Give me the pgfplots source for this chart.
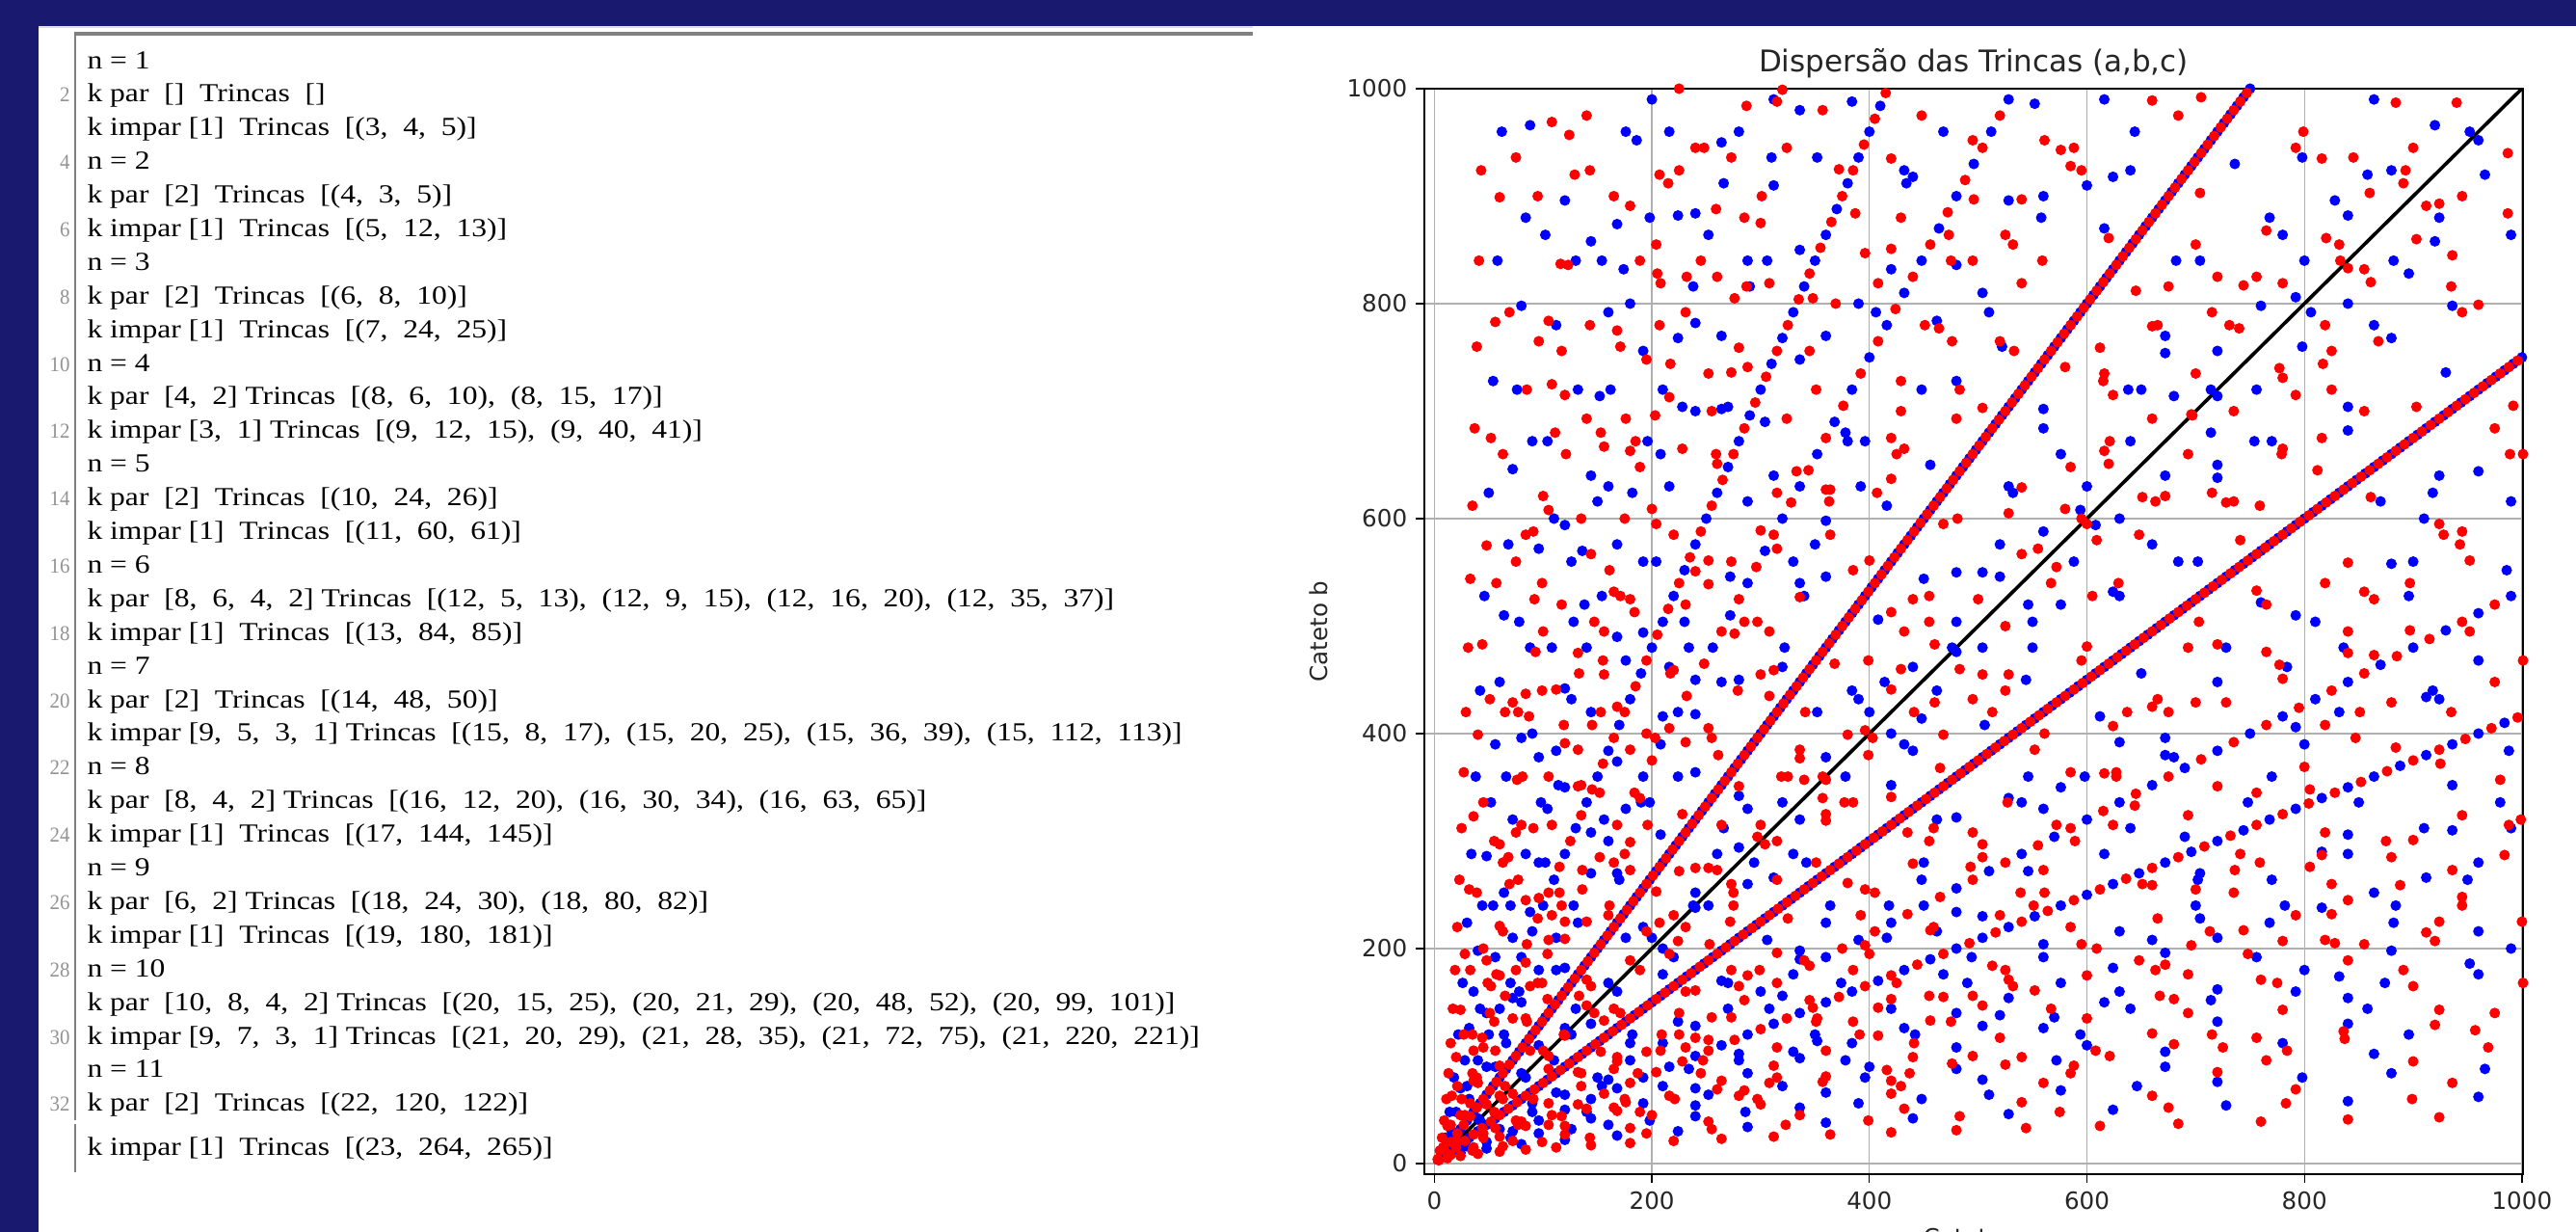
\documentclass[border=0pt]{standalone}
\usepackage{pgfplots}
\pgfplotsset{compat=1.18}
\usepackage{pgfplotstable}
\usepackage{fontspec}
\setmainfont{DejaVu Sans}
\newfontfamily\tms{Liberation Serif}
\definecolor{navy}{HTML}{191970}
\definecolor{ink}{HTML}{262626}
\newcommand\xs{1.17}
\newcommand\Lin[2]{\node[anchor=base west,inner sep=0pt] at (90,{1278-71-34.9*(#1-1)}) {\tms\fontsize{10.8}{12}\selectfont\scalebox{\xs}[1]{#2}};}
\newcommand\Num[1]{\node[anchor=base east,inner sep=0pt,text=gray!85] at (73,{1278-71-34.9*(#1-1)}) {\tms\fontsize{8.8}{10}\selectfont\scalebox{0.95}[1]{#1}};}
\pgfplotstableread{
3 4
9 12
15 20
21 28
27 36
33 44
39 52
45 60
51 68
57 76
63 84
69 92
75 100
81 108
87 116
93 124
99 132
105 140
111 148
117 156
123 164
129 172
135 180
141 188
147 196
153 204
159 212
165 220
171 228
177 236
183 244
189 252
195 260
201 268
207 276
213 284
219 292
225 300
231 308
237 316
243 324
249 332
255 340
261 348
267 356
273 364
279 372
285 380
291 388
297 396
303 404
309 412
315 420
321 428
327 436
333 444
339 452
345 460
351 468
357 476
363 484
369 492
375 500
381 508
387 516
393 524
399 532
405 540
411 548
417 556
423 564
429 572
435 580
441 588
447 596
453 604
459 612
465 620
471 628
477 636
483 644
489 652
495 660
501 668
507 676
513 684
519 692
525 700
531 708
537 716
543 724
549 732
555 740
561 748
567 756
573 764
579 772
585 780
591 788
597 796
603 804
609 812
615 820
621 828
627 836
633 844
639 852
645 860
651 868
657 876
663 884
669 892
675 900
681 908
687 916
693 924
699 932
705 940
711 948
717 956
723 964
729 972
735 980
741 988
747 996
753 1004
5 12
15 36
25 60
35 84
45 108
55 132
65 156
75 180
85 204
95 228
105 252
115 276
125 300
135 324
145 348
155 372
165 396
175 420
185 444
195 468
205 492
215 516
225 540
235 564
245 588
255 612
265 636
275 660
285 684
295 708
305 732
315 756
325 780
335 804
345 828
355 852
365 876
375 900
385 924
395 948
405 972
415 996
8 15
24 45
40 75
56 105
72 135
88 165
104 195
120 225
136 255
152 285
168 315
184 345
200 375
216 405
232 435
248 465
264 495
280 525
296 555
312 585
328 615
344 645
360 675
376 705
392 735
408 765
424 795
440 825
456 855
472 885
488 915
504 945
520 975
536 1005
7 24
21 72
35 120
49 168
63 216
77 264
91 312
105 360
119 408
133 456
147 504
161 552
175 600
189 648
203 696
217 744
231 792
245 840
259 888
273 936
287 984
20 21
60 63
100 105
140 147
180 189
220 231
260 273
300 315
340 357
380 399
420 441
460 483
500 525
540 567
580 609
620 651
660 693
700 735
740 777
780 819
820 861
860 903
900 945
940 987
12 35
36 105
60 175
84 245
108 315
132 385
156 455
180 525
204 595
228 665
252 735
276 805
300 875
324 945
9 40
27 120
45 200
63 280
81 360
99 440
117 520
135 600
153 680
171 760
189 840
207 920
225 1000
28 45
84 135
140 225
196 315
252 405
308 495
364 585
420 675
476 765
532 855
588 945
11 60
33 180
55 300
77 420
99 540
121 660
143 780
165 900
33 56
99 168
165 280
231 392
297 504
363 616
429 728
495 840
561 952
16 63
48 189
80 315
112 441
144 567
176 693
208 819
240 945
48 55
144 165
240 275
336 385
432 495
528 605
624 715
720 825
816 935
13 84
39 252
65 420
91 588
117 756
143 924
36 77
108 231
180 385
252 539
324 693
396 847
468 1001
39 80
117 240
195 400
273 560
351 720
429 880
65 72
195 216
325 360
455 504
585 648
715 792
845 936
20 99
60 297
100 495
140 693
180 891
60 91
180 273
300 455
420 637
540 819
660 1001
15 112
45 336
75 560
105 784
44 117
132 351
220 585
308 819
88 105
264 315
440 525
616 735
792 945
17 144
51 432
85 720
24 143
72 429
120 715
168 1001
51 140
153 420
255 700
357 980
85 132
255 396
425 660
595 924
119 120
357 360
595 600
833 840
52 165
156 495
260 825
19 180
57 540
95 900
57 176
171 528
285 880
104 153
312 459
520 765
95 168
285 504
475 840
28 195
84 585
140 975
84 187
252 561
420 935
133 156
399 468
665 780
21 220
63 660
140 171
420 513
700 855
60 221
180 663
120 209
360 627
23 264
69 792
105 208
315 624
69 260
207 780
25 312
75 936
115 252
345 756
75 308
225 924
27 364
161 240
483 720
29 420
32 255
96 765
96 247
288 741
160 231
480 693
207 224
621 672
175 288
525 864
135 352
87 416
31 480
68 285
204 855
136 273
408 819
204 253
612 759
225 272
675 816
189 340
145 408
93 476
33 544
36 323
108 969
180 299
540 897
252 275
756 825
203 396
155 468
35 612
76 357
152 345
228 325
684 975
297 304
891 912
261 380
217 456
165 532
105 608
37 684
40 399
120 391
280 351
319 360
279 440
231 520
111 680
39 760
84 437
168 425
336 377
341 420
185 672
41 840
44 483
132 475
220 459
308 435
396 403
315 572
259 660
195 748
123 836
43 924
92 525
184 513
276 493
368 465
429 460
385 552
333 644
273 736
205 828
129 920
48 575
240 551
336 527
455 528
407 624
287 816
215 912
100 621
200 609
300 589
400 561
481 600
429 700
369 800
301 900
52 675
156 667
260 651
364 627
468 595
555 572
451 780
387 884
315 988
108 725
216 713
432 665
540 629
533 756
473 864
56 783
168 775
280 759
504 703
616 663
615 728
559 840
495 952
116 837
232 825
348 805
464 777
580 741
696 697
645 812
585 928
60 899
420 851
660 779
731 780
124 957
248 945
372 925
496 897
620 861
744 817
765 868
705 992
320 999
448 975
576 943
704 903
832 855
799 960
660 989
893 924
884 987
}\tabR
\pgfplotstableread{
6 8
12 16
18 24
24 32
30 40
36 48
42 56
48 64
54 72
60 80
66 88
72 96
78 104
84 112
90 120
96 128
102 136
108 144
114 152
120 160
126 168
132 176
138 184
144 192
150 200
156 208
162 216
168 224
174 232
180 240
186 248
192 256
198 264
204 272
210 280
216 288
222 296
228 304
234 312
240 320
246 328
252 336
258 344
264 352
270 360
276 368
282 376
288 384
294 392
300 400
306 408
312 416
318 424
324 432
330 440
336 448
342 456
348 464
354 472
360 480
366 488
372 496
378 504
384 512
390 520
396 528
402 536
408 544
414 552
420 560
426 568
432 576
438 584
444 592
450 600
456 608
462 616
468 624
474 632
480 640
486 648
492 656
498 664
504 672
510 680
516 688
522 696
528 704
534 712
540 720
546 728
552 736
558 744
564 752
570 760
576 768
582 776
588 784
594 792
600 800
606 808
612 816
618 824
624 832
630 840
636 848
642 856
648 864
654 872
660 880
666 888
672 896
678 904
684 912
690 920
696 928
702 936
708 944
714 952
720 960
726 968
732 976
738 984
744 992
750 1000
10 24
20 48
30 72
40 96
50 120
60 144
70 168
80 192
90 216
100 240
110 264
120 288
130 312
140 336
150 360
160 384
170 408
180 432
190 456
200 480
210 504
220 528
230 552
240 576
250 600
260 624
270 648
280 672
290 696
300 720
310 744
320 768
330 792
340 816
350 840
360 864
370 888
380 912
390 936
400 960
410 984
16 30
32 60
48 90
64 120
80 150
96 180
112 210
128 240
144 270
160 300
176 330
192 360
208 390
224 420
240 450
256 480
272 510
288 540
304 570
320 600
336 630
352 660
368 690
384 720
400 750
416 780
432 810
448 840
464 870
480 900
496 930
512 960
528 990
14 48
28 96
42 144
56 192
70 240
84 288
98 336
112 384
126 432
140 480
154 528
168 576
182 624
196 672
210 720
224 768
238 816
252 864
266 912
280 960
40 42
80 84
120 126
160 168
200 210
240 252
280 294
320 336
360 378
400 420
440 462
480 504
520 546
560 588
600 630
640 672
680 714
720 756
760 798
800 840
840 882
880 924
920 966
24 70
48 140
72 210
96 280
120 350
144 420
168 490
192 560
216 630
240 700
264 770
288 840
312 910
336 980
18 80
36 160
54 240
72 320
90 400
108 480
126 560
144 640
162 720
180 800
198 880
216 960
56 90
112 180
168 270
224 360
280 450
336 540
392 630
448 720
504 810
560 900
616 990
22 120
44 240
66 360
88 480
110 600
132 720
154 840
176 960
66 112
132 224
198 336
264 448
330 560
396 672
462 784
528 896
32 126
64 252
96 378
128 504
160 630
192 756
224 882
96 110
192 220
288 330
384 440
480 550
576 660
672 770
768 880
864 990
26 168
52 336
78 504
104 672
130 840
72 154
144 308
216 462
288 616
360 770
432 924
78 160
156 320
234 480
312 640
390 800
468 960
130 144
260 288
390 432
520 576
650 720
780 864
40 198
80 396
120 594
160 792
200 990
120 182
240 364
360 546
480 728
600 910
30 224
60 448
90 672
120 896
88 234
176 468
264 702
352 936
176 210
352 420
528 630
704 840
34 288
68 576
102 864
48 286
96 572
144 858
102 280
204 560
306 840
170 264
340 528
510 792
238 240
476 480
714 720
952 960
104 330
208 660
312 990
38 360
76 720
114 352
228 704
208 306
416 612
624 918
190 336
380 672
56 390
112 780
168 374
336 748
266 312
532 624
798 936
42 440
84 880
280 342
560 684
120 442
240 884
240 418
480 836
46 528
210 416
420 832
138 520
50 624
230 504
150 616
54 728
322 480
644 960
58 840
64 510
192 494
384 988
320 462
640 924
414 448
828 896
350 576
270 704
174 832
62 960
136 570
272 546
408 506
450 544
378 680
290 816
186 952
72 646
360 598
504 550
406 792
310 936
152 714
304 690
456 650
594 608
522 760
434 912
80 798
240 782
560 702
638 720
558 880
168 874
336 850
672 754
682 840
88 966
264 950
440 918
616 870
792 806
552 986
736 930
858 920
}\tabB
\begin{document}
\begin{tikzpicture}
\useasboundingbox (0,0) rectangle (1069.2pt,511.2pt);
\clip (0,0) rectangle (1069.2pt,511.2pt);
\begin{scope}[x=0.4pt,y=0.4pt]
\fill[navy] (0,0) rectangle (2673,1278);
\fill[white] (40,0) rectangle (2673,1251);
\fill[gray!25] (40,1249) rectangle (1300,1251);
\fill[gray] (78,1241.5) rectangle (1300,1245);
\fill[gray] (77,116) rectangle (79,1245);
\fill[gray] (77,62) rectangle (79,112);
\Lin{1}{n = 1}
\Lin{2}{k par~~[]~~Trincas~~[]}
\Lin{3}{k impar [1]~~Trincas~~[(3,~~4,~~5)]}
\Lin{4}{n = 2}
\Lin{5}{k par~~[2]~~Trincas~~[(4,~~3,~~5)]}
\Lin{6}{k impar [1]~~Trincas~~[(5,~~12,~~13)]}
\Lin{7}{n = 3}
\Lin{8}{k par~~[2]~~Trincas~~[(6,~~8,~~10)]}
\Lin{9}{k impar [1]~~Trincas~~[(7,~~24,~~25)]}
\Lin{10}{n = 4}
\Lin{11}{k par~~[4,~~2] Trincas~~[(8,~~6,~~10),~~(8,~~15,~~17)]}
\Lin{12}{k impar [3,~~1] Trincas~~[(9,~~12,~~15),~~(9,~~40,~~41)]}
\Lin{13}{n = 5}
\Lin{14}{k par~~[2]~~Trincas~~[(10,~~24,~~26)]}
\Lin{15}{k impar [1]~~Trincas~~[(11,~~60,~~61)]}
\Lin{16}{n = 6}
\Lin{17}{k par~~[8,~~6,~~4,~~2] Trincas~~[(12,~~5,~~13),~~(12,~~9,~~15),~~(12,~~16,~~20),~~(12,~~35,~~37)]}
\Lin{18}{k impar [1]~~Trincas~~[(13,~~84,~~85)]}
\Lin{19}{n = 7}
\Lin{20}{k par~~[2]~~Trincas~~[(14,~~48,~~50)]}
\Lin{21}{k impar [9,~~5,~~3,~~1] Trincas~~[(15,~~8,~~17),~~(15,~~20,~~25),~~(15,~~36,~~39),~~(15,~~112,~~113)]}
\Lin{22}{n = 8}
\Lin{23}{k par~~[8,~~4,~~2] Trincas~~[(16,~~12,~~20),~~(16,~~30,~~34),~~(16,~~63,~~65)]}
\Lin{24}{k impar [1]~~Trincas~~[(17,~~144,~~145)]}
\Lin{25}{n = 9}
\Lin{26}{k par~~[6,~~2] Trincas~~[(18,~~24,~~30),~~(18,~~80,~~82)]}
\Lin{27}{k impar [1]~~Trincas~~[(19,~~180,~~181)]}
\Lin{28}{n = 10}
\Lin{29}{k par~~[10,~~8,~~4,~~2] Trincas~~[(20,~~15,~~25),~~(20,~~21,~~29),~~(20,~~48,~~52),~~(20,~~99,~~101)]}
\Lin{30}{k impar [9,~~7,~~3,~~1] Trincas~~[(21,~~20,~~29),~~(21,~~28,~~35),~~(21,~~72,~~75),~~(21,~~220,~~221)]}
\Lin{31}{n = 11}
\Lin{32}{k par~~[2]~~Trincas~~[(22,~~120,~~122)]}
\node[anchor=base west,inner sep=0pt] at (90,79) {\tms\fontsize{10.8}{12}\selectfont\scalebox{\xs}[1]{k impar [1]~~Trincas~~[(23,~~264,~~265)]}};
\Num{2}\Num{4}\Num{6}\Num{8}\Num{10}\Num{12}\Num{14}\Num{16}\Num{18}\Num{20}\Num{22}\Num{24}\Num{26}\Num{28}\Num{30}\Num{32}
\end{scope}
\begin{axis}[
  at={(591.2pt,24pt)},anchor=south west,scale only axis,
  width=456pt,height=450.4pt,
  xmin=-9.2,xmax=1001,ymin=-9.9,ymax=1000,
  xtick={0,200,400,600,800,1000},ytick={0,200,400,600,800,1000},
  grid=major,
  grid style={color=black!31,line width=0.55pt},
  axis line style={black,line width=0.8pt},
  tick style={black,line width=0.5pt},
  major tick length=3.6pt,
  tick align=outside,xtick pos=bottom,ytick pos=left,
  /pgf/number format/assume math mode=true,
  /pgf/number format/1000 sep={},
  tick label style={font=\fontsize{9.84}{12}\selectfont,text=ink},
  title={Dispers\~ao das Trincas (a,b,c)},
  title style={at={(axis description cs:0.5,1)},anchor=base,yshift=0.8pt,font=\fontsize{12.4}{14}\selectfont,text=ink,inner sep=0pt},
  xlabel={Cateto a},ylabel={Cateto b},
  every axis x label/.style={at={(axis description cs:0.5,-0.0497)},anchor=north,inner sep=0pt,font=\fontsize{9.84}{12}\selectfont,text=ink},
  every axis y label/.style={at={(axis description cs:-0.0965,0.5)},rotate=90,anchor=center,inner sep=0pt,font=\fontsize{9.84}{12}\selectfont,text=ink},
]
\addplot[only marks,mark=*,mark size=2pt,color=blue,mark options={draw=none,fill=blue}] table[x index=0,y index=1]{\tabB};
\addplot[only marks,mark=*,mark size=2pt,color=blue,mark options={draw=none,fill=blue}] table[x index=1,y index=0]{\tabB};
\addplot[only marks,mark=*,mark size=2pt,color=red,mark options={draw=none,fill=red}] table[x index=0,y index=1]{\tabR};
\addplot[only marks,mark=*,mark size=2pt,color=red,mark options={draw=none,fill=red}] table[x index=1,y index=0]{\tabR};
\addplot[black,line width=1.45pt] coordinates {(0,0)(1000,1000)};
\end{axis}
\end{tikzpicture}
\end{document}
